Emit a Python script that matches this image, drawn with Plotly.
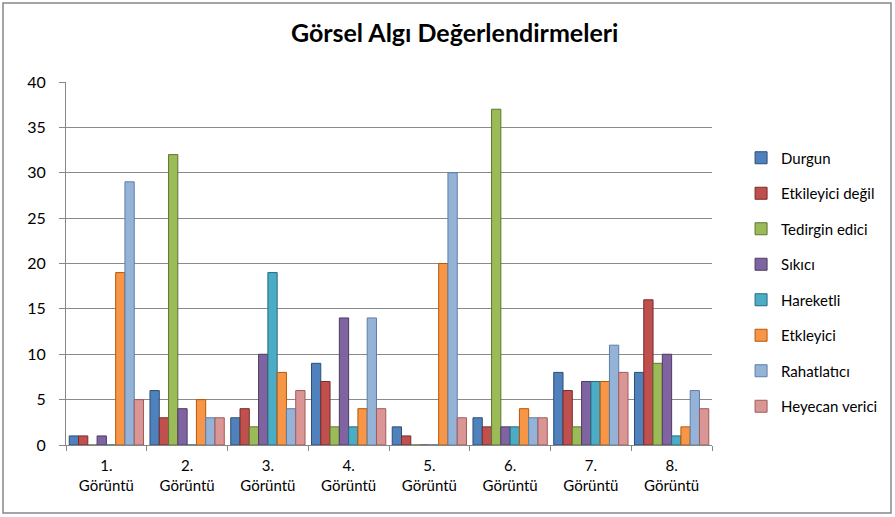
import plotly.graph_objects as go

categories = ["1.<br>Görüntü", "2.<br>Görüntü", "3.<br>Görüntü", "4.<br>Görüntü",
              "5.<br>Görüntü", "6.<br>Görüntü", "7.<br>Görüntü", "8.<br>Görüntü"]
series_names = ["Durgun", "Etkileyici değil", "Tedirgin edici", "Sıkıcı",
                "Hareketli", "Etkleyici", "Rahatlatıcı", "Heyecan verici"]
durgun = [1, 6, 3, 9, 2, 3, 8, 8]
etkileyici_degil = [1, 3, 4, 7, 1, 2, 6, 16]
tedirgin = [0, 32, 2, 2, 0, 37, 2, 9]
sikici = [1, 4, 10, 14, 0, 2, 7, 10]
hareketli = [0, 0, 19, 2, 0, 2, 7, 1]
etkleyici = [19, 5, 8, 4, 20, 4, 7, 2]
rahatlatici = [29, 3, 4, 14, 30, 3, 11, 6]
heyecan = [5, 3, 6, 4, 3, 3, 8, 4]
y_ticks = [0, 5, 10, 15, 20, 25, 30, 35, 40]

series = [durgun, etkileyici_degil, tedirgin, sikici, hareketli, etkleyici, rahatlatici, heyecan]
colors = ["#4F81BD", "#C0504D", "#9BBB59", "#8064A2", "#4BACC6", "#F79646", "#95B3D7", "#D99694"]
edges = ["#2C4D75", "#772C2A", "#5F7530", "#4D3B62", "#276A7C", "#B65708", "#5C7EA8", "#9E5C5A"]

fig = go.Figure()
for name, vals, c, e in zip(series_names, series, colors, edges):
    fig.add_trace(go.Bar(x=categories, y=vals, name=name, legendgroup=name,
                         marker=dict(color=c, line=dict(color=e, width=1))))

font = "Lato, Open Sans, sans-serif"
fig.update_layout(
    width=895, height=517,
    margin=dict(l=66, r=183, t=82, b=72, autoexpand=False),
    paper_bgcolor="white", plot_bgcolor="white",
    barmode="group", bargap=0.08, bargroupgap=0.0,
    title=dict(text="<b>Görsel Algı Değerlendirmeleri</b>", x=0.508, xanchor="center",
               y=0.935, yanchor="middle", font=dict(family=font, size=25, color="black")),
    font=dict(family=font, size=14, color="black"),
    legend=dict(x=1.045, y=(445 - 282) / 363, xanchor="left", yanchor="middle",
                traceorder="grouped", tracegroupgap=13,
                font=dict(family=font, size=15, color="black")),
    xaxis=dict(showline=True, linecolor="#868686", linewidth=1, ticks="outside",
               tickson="boundaries", ticklen=5, tickcolor="#868686",
               ticklabelstandoff=7, tickfont=dict(size=15)),
    yaxis=dict(range=[0, 40], tickvals=y_ticks, showgrid=True, gridcolor="#8A8A8A",
               gridwidth=1, showline=True, linecolor="#868686", ticks="outside",
               ticklen=6, tickcolor="#868686", zeroline=False,
               ticklabelstandoff=10, tickfont=dict(size=16)),
    shapes=[dict(type="rect", xref="paper", yref="paper",
                 x0=(3 - 66) / 646, x1=(891 - 66) / 646,
                 y0=(445 - 513) / 363, y1=(445 - 3) / 363,
                 line=dict(color="#868686", width=1.5))],
)
fig.write_html("out.html", config={"displayModeBar": False},
               post_script="document.body.style.margin='0';")
